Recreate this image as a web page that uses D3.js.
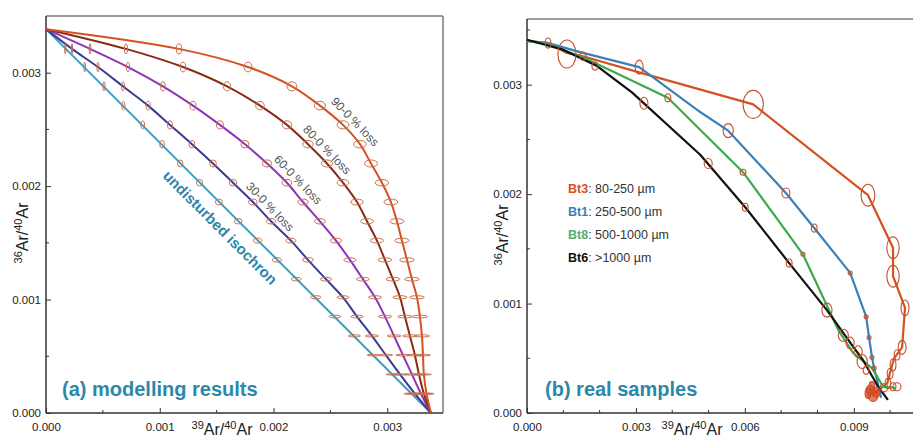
<!DOCTYPE html>
<html><head><meta charset="utf-8">
<script src="https://cdn.jsdelivr.net/npm/d3@7"></script>
<style>
body{margin:0;background:#fff}
svg{display:block;font-family:"Liberation Sans",Arial,sans-serif}
</style>
</head><body>
<svg id="c" width="913" height="438"></svg>
<script>
// ===================== DATA : panel (a) modelling results =====================
const atmY = 0.003384;   // 36Ar/40Ar intercept (atmospheric)
const radX = 0.003384;   // 39Ar/40Ar intercept
// 36Ar/40Ar of the modelled steps (shared by every curve)
const rowY = [0.00321,0.00305,0.00288,0.00271,0.00254,0.00237,0.00220,0.00203,0.00186,0.00169,
              0.00152,0.00135,0.00118,0.00102,0.00085,0.00068,0.00051,0.00034,0.00017];
// 39Ar/40Ar of the modelled steps for each curve
const isoX    = [0.00017,0.00034,0.00051,0.00068,0.00085,0.00102,0.00118,0.00135,0.00152,0.00169,
                 0.00186,0.00203,0.00220,0.00237,0.00254,0.00271,0.00288,0.00305,0.00321];
const loss30X = [0.000229,0.000457,0.000677,0.000897,0.001090,0.001283,0.001468,0.001644,0.001819,0.001978,
                 0.002153,0.002303,0.002461,0.002611,0.002734,0.002865,0.002988,0.003112,0.003243];
const loss60X = [0.000387,0.000721,0.001028,0.001292,0.001529,0.001749,0.001943,0.002118,0.002259,0.002408,
                 0.002549,0.002672,0.002786,0.002892,0.002980,0.003059,0.003138,0.003217,0.003296];
const loss80X = [0.000703,0.001204,0.001591,0.001881,0.002118,0.002303,0.002470,0.002611,0.002734,0.002822,
                 0.002909,0.002980,0.003050,0.003112,0.003155,0.003199,0.003243,0.003279,0.003322];
const loss90X = [0.001169,0.001776,0.002162,0.002408,0.002611,0.002760,0.002857,0.002953,0.003032,0.003085,
                 0.003129,0.003173,0.003217,0.003261,0.003287,0.003305,0.003314,0.003322,0.003345];
const relErrX = 0.02, relErrY = 0.014;   // modelled relative 1σ errors
const modelNames = ["undisturbed isochron","30-0 % loss","60-0 % loss","80-0 % loss","90-0 % loss"];
const xTicksA = [0, 0.001, 0.002, 0.003];
const yTicksA = [0, 0.001, 0.002, 0.003];

// ===================== DATA : panel (b) real samples =====================
const sampleNames = ["Bt3","Bt1","Bt8","Bt6"];
const sampleSizes = [": 80-250 µm",": 250-500 µm",": 500-1000 µm",": >1000 µm"];
const bt3X = [0,0.00058,0.00110,0.00154,0.00311,0.00623,0.00939,0.01008,0.01008,0.01041,0.01033,0.01011,0.01000,0.00992,0.00967,0.00950];
const bt3Y = [0.00340,0.00338,0.00329,0.00326,0.00311,0.00282,0.00199,0.00151,0.00125,0.00096,0.00060,0.00050,0.00037,0.00027,0.00021,0.00016];
const bt1X = [0,0.00058,0.00154,0.00309,0.00477,0.00554,0.00713,0.00791,0.00890,0.00934,0.00942,0.00950,0.00956,0.00964,0.00975];
const bt1Y = [0.00340,0.00338,0.00329,0.00316,0.00275,0.00258,0.00201,0.00169,0.00128,0.00088,0.00069,0.00051,0.00041,0.00030,0.00014];
const bt8X = [0,0.00058,0.00154,0.00388,0.00595,0.00760,0.00857,0.00898,0.00950,0.00981,0.01014];
const bt8Y = [0.00340,0.00337,0.00325,0.00288,0.00220,0.00145,0.00076,0.00055,0.00041,0.00024,0.00023];
const bt6X = [0,0.00099,0.00193,0.00289,0.00477,0.00601,0.00722,0.00826,0.00895,0.00926,0.00967,0.00994];
const bt6Y = [0.00341,0.00332,0.00317,0.00293,0.00236,0.00188,0.00137,0.00094,0.00062,0.00048,0.00024,0.00012];
// error ellipses: [x, y, errX, errY]
const bt3Ell = [[0.00058,0.00338,0.00008,0.000046],[0.00110,0.00328,0.00025,0.000128],[0.00154,0.00326,0.00008,0.000037],
  [0.00623,0.00282,0.00028,0.000128],[0.00939,0.00199,0.00019,0.00010],[0.01008,0.00151,0.00017,0.00010],
  [0.01008,0.00125,0.00017,0.00010],[0.01041,0.00096,0.00011,0.000073],[0.01033,0.00060,0.00011,0.000064],
  [0.01019,0.00053,0.00008,0.000046],[0.01008,0.00044,0.00008,0.000055],[0.01000,0.00036,0.00008,0.000046],
  [0.00994,0.00027,0.00008,0.000046],[0.00983,0.00023,0.00011,0.000037],[0.01019,0.00024,0.00011,0.000037]];
const bt3Cluster = [[0.00945,0.00021,0.00011,0.000046],[0.00953,0.00016,0.00014,0.000055],[0.00939,0.00018,0.00008,0.000046],
  [0.00961,0.00019,0.00011,0.000046],[0.00950,0.00025,0.00008,0.000037]];
const bt1Ell = [[0.00309,0.00316,0.00011,0.000064],[0.00554,0.00258,0.00014,0.000064],[0.00713,0.00201,0.00011,0.000046],
  [0.00791,0.00169,0.00008,0.000037],[0.00890,0.00128,0.000055,0.000018],[0.00934,0.00088,0.000055,0.000018],
  [0.00942,0.00069,0.000055,0.000018],[0.00950,0.00051,0.000055,0.000018],[0.00956,0.00041,0.000055,0.000018]];
const bt8Ell = [[0.00388,0.00288,0.00008,0.000037],[0.00595,0.00220,0.00008,0.000027],[0.00760,0.00145,0.000055,0.000018],
  [0.01008,0.00024,0.00008,0.000037]];
const bt6Ell = [[0.00187,0.00317,0.00008,0.000037],[0.00322,0.00283,0.00011,0.000055],[0.00499,0.00228,0.00011,0.000046],
  [0.00601,0.00188,0.00008,0.000037],[0.00722,0.00137,0.00008,0.000037],[0.00826,0.00094,0.00014,0.000064],
  [0.00871,0.00071,0.00014,0.000055],[0.00890,0.00064,0.00011,0.000055],[0.00912,0.00056,0.00011,0.000055],
  [0.00923,0.00047,0.00014,0.000064],[0.00934,0.00039,0.00008,0.000037]];
const xTicksB = [0, 0.003, 0.006, 0.009];
const yTicksB = [0, 0.001, 0.002, 0.003];

// ===================== DRAWING =====================
const svg = d3.select("#c");
const fmt = d3.format(".3f");
const modelColors = ["#3a9fc2","#3b3a95","#8f33b8","#8a2b14","#d4521f"];
const sampleColors = ["#d4521f","#3b80b8","#3aab4a","#111111"];
const legendColors = ["#d4521f","#3b80b8","#5aab72","#111111"];
const ellColA = "#c9704f", ellColB = "#c4502e";
const titleCol = "#2a88ab";

function axes(g, x, y, xt, yt, xMinor, yMinor, x0, x1, y0, y1, topRight){
  g.append("g").selectAll("line").data(xMinor).join("line")
    .attr("x1",d=>x(d)).attr("x2",d=>x(d)).attr("y1",y0).attr("y2",y0-3)
    .attr("stroke","#333").attr("stroke-width",1);
  g.append("g").selectAll("line").data(yMinor).join("line")
    .attr("y1",d=>y(d)).attr("y2",d=>y(d)).attr("x1",x0).attr("x2",x0+3)
    .attr("stroke","#333").attr("stroke-width",1);
  const ax = g.append("g").attr("transform",`translate(0,${y0})`)
    .call(d3.axisBottom(x).tickValues(xt).tickFormat(fmt).tickSize(-5).tickPadding(10));
  const ay = g.append("g").attr("transform",`translate(${x0},0)`)
    .call(d3.axisLeft(y).tickValues(yt).tickFormat(fmt).tickSize(-5).tickPadding(5));
  [ax,ay].forEach(a=>{
    a.select(".domain").remove();
    a.selectAll(".tick line").attr("stroke","#333").attr("stroke-width",1);
    a.selectAll(".tick text").attr("fill","#222").style("font-size","11.5px")
      .style("font-family",'"Liberation Sans",Arial,sans-serif');
  });
  g.append("line").attr("x1",x0).attr("x2",x1).attr("y1",y1).attr("y2",y1).attr("stroke","#7a7a7a").attr("stroke-width",1.5);
  if(topRight) g.append("line").attr("x1",x1).attr("x2",x1).attr("y1",y1).attr("y2",y0).attr("stroke","#7a7a7a").attr("stroke-width",1.5);
  g.append("line").attr("x1",x0).attr("x2",x1).attr("y1",y0).attr("y2",y0).attr("stroke","#333").attr("stroke-width",1.5);
  g.append("line").attr("x1",x0).attr("x2",x0).attr("y1",y1).attr("y2",y0).attr("stroke","#333").attr("stroke-width",1.5);
}

function arLabel(g, a, b, x, y, rot){
  const t = g.append("text").attr("fill","#222").style("font-size","16px")
    .attr("transform",`translate(${x},${y}) rotate(${rot})`).attr("text-anchor","middle");
  t.append("tspan").text(a).style("font-size","11px").attr("dy","-6");
  t.append("tspan").text("Ar/").attr("dy","6");
  t.append("tspan").text(b).style("font-size","11px").attr("dy","-6");
  t.append("tspan").text("Ar").attr("dy","6");
}

// ---------- panel (a) ----------
{
  const x0 = 46, x1 = 443, y0 = 413, y1 = 16;
  const x = d3.scaleLinear().domain([0,0.00349]).range([x0,x1]);
  const y = d3.scaleLinear().domain([0,0.0035]).range([y0,y1]);
  const g = svg.append("g");
  axes(g, x, y, xTicksA, yTicksA, [0.0005,0.0015,0.0025], [0.0005,0.0015,0.0025], x0, x1, y0, y1, true);

  const curves = [isoX, loss30X, loss60X, loss80X, loss90X];
  const line = d3.line().x(d=>x(d[0])).y(d=>y(d[1])).curve(d3.curveCatmullRom.alpha(0.5));
  curves.forEach((cx,k)=>{
    const pts = [[0,atmY]].concat(cx.map((v,i)=>[v,rowY[i]])).concat([[radX,0]]);
    g.append("path").attr("d", k===0 ? d3.line().x(d=>x(d[0])).y(d=>y(d[1]))([[0,atmY],[radX,0]]) : line(pts))
      .attr("fill","none").attr("stroke",modelColors[k]).attr("stroke-width",2);
  });
  curves.forEach(cx=>{
    g.append("g").selectAll("ellipse").data(cx.map((v,i)=>[v,rowY[i]])).join("ellipse")
      .attr("cx",d=>x(d[0])).attr("cy",d=>y(d[1]))
      .attr("rx",d=>Math.max(0.6, x(d[0]*(1+relErrX))-x(d[0])))
      .attr("ry",d=>Math.max(0.6, y(d[1])-y(d[1]*(1+relErrY))))
      .attr("fill","none").attr("stroke",ellColA).attr("stroke-width",1);
  });
  const lab = [[0.001529,0.001633,45],[0.001969,0.001818,46],[0.002215,0.002056,46],[0.00247,0.00232,46],[0.002716,0.002568,46]];
  modelNames.forEach((n,k)=>{
    const t = g.append("text").text(n).attr("text-anchor","middle")
      .attr("transform",`translate(${x(lab[k][0])},${y(lab[k][1])}) rotate(${lab[k][2]})`);
    if(k===0) t.attr("fill",titleCol).style("font-size","15px").style("font-weight","bold").attr("dy","5");
    else t.attr("fill","#555").style("font-size","12px").attr("dy","4");
  });
  g.append("text").text("(a) modelling results").attr("x",62).attr("y",396)
    .attr("fill",titleCol).style("font-size","20px").style("font-weight","bold");
  arLabel(g,"36","40",28,233,-90);
  arLabel(g,"39","40",222,435,0);
}

// ---------- panel (b) ----------
{
  const x0 = 527, x1 = 913, y0 = 413, y1 = 19;
  const x = d3.scaleLinear().domain([0,0.01063]).range([x0,x1]);
  const y = d3.scaleLinear().domain([0,0.0036]).range([y0,y1]);
  const g = svg.append("g");
  axes(g, x, y, xTicksB, yTicksB, [0.001,0.002,0.004,0.005,0.007,0.008,0.010], [0.0005,0.0015,0.0025,0.0035], x0, x1, y0, y1, false);

  const series = [[bt3X,bt3Y],[bt1X,bt1Y],[bt8X,bt8Y],[bt6X,bt6Y]];
  const line = d3.line().x(d=>x(d[0])).y(d=>y(d[1]));
  series.forEach((s,k)=>{
    g.append("path").attr("d", line(s[0].map((v,i)=>[v,s[1][i]])))
      .attr("fill","none").attr("stroke",sampleColors[k]).attr("stroke-width",2.2)
      .attr("stroke-linejoin","round");
  });
  const ell = (data, fill) => g.append("g").selectAll("ellipse").data(data).join("ellipse")
      .attr("cx",d=>x(d[0])).attr("cy",d=>y(d[1]))
      .attr("rx",d=>x(d[0]+d[2])-x(d[0])).attr("ry",d=>y(d[1])-y(d[1]+d[3]))
      .attr("fill",fill).attr("fill-opacity",0.7).attr("stroke",ellColB).attr("stroke-width",1.1);
  [bt3Ell,bt1Ell,bt8Ell,bt6Ell].forEach(e=>ell(e,"none"));
  ell(bt3Cluster,"#e0451c");

  sampleNames.forEach((n,k)=>{
    const t = g.append("text").attr("x",568).attr("y",193+k*23).style("font-size","12.5px");
    t.append("tspan").text(n).attr("fill",legendColors[k]).style("font-weight","bold");
    t.append("tspan").text(sampleSizes[k]).attr("fill","#333");
  });
  g.append("text").text("(b) real samples").attr("x",545).attr("y",396)
    .attr("fill",titleCol).style("font-size","20px").style("font-weight","bold");
  arLabel(g,"36","40",508,235,-90);
  arLabel(g,"39","40",692,435,0);
}
</script>
</body></html>
